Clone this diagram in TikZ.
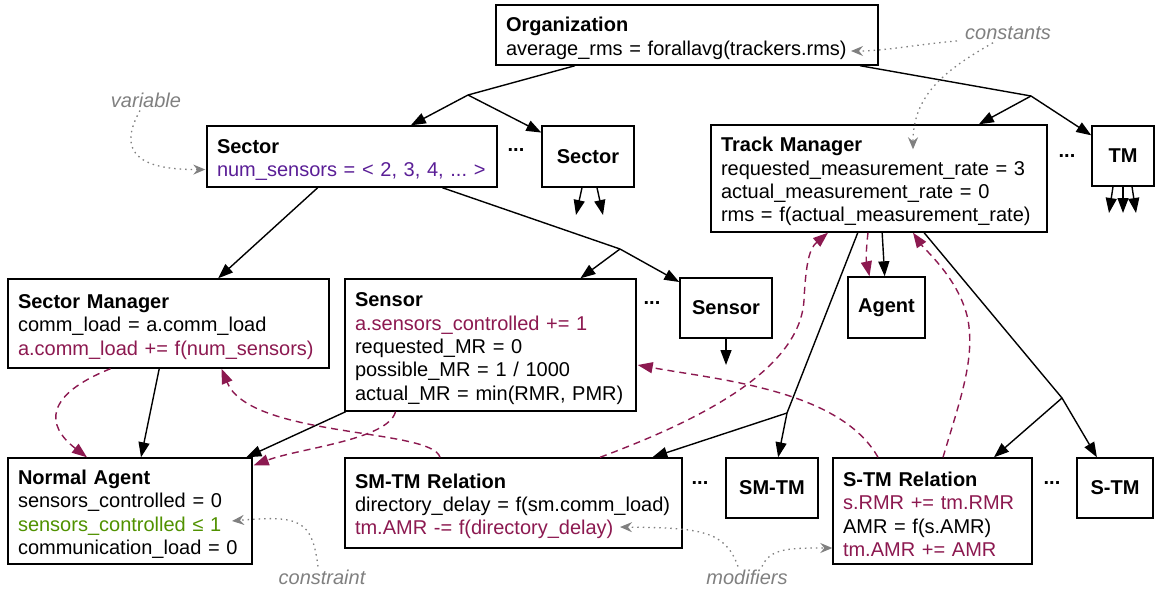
\documentclass[tikz,border=0pt]{standalone}
\usepackage{fontspec}
\setmainfont{Liberation Sans}
\usetikzlibrary{arrows.meta,calc}
\definecolor{mag}{RGB}{140,25,80}
\definecolor{purp}{RGB}{90,30,150}
\definecolor{grn}{RGB}{80,145,0}
\definecolor{notegray}{RGB}{128,128,128}
\frenchspacing
\newcommand{\boxfont}{\fontsize{20}{23.3}\selectfont}
\newcommand{\notefont}{\fontsize{20}{24}\selectfont\itshape}
% box title: bold, with a taller first line so the text block sits a little low
\newcommand{\headline}[1]{\rule{0pt}{21pt}\textbf{#1}}
\begin{document}
\begin{tikzpicture}[x=1pt,y=-1pt,
  box/.style={draw, line width=1.4pt, inner xsep=10pt, inner ysep=0pt, align=left, font=\boxfont},
  tag/.style={draw, line width=1.4pt, inner sep=0pt, align=center, font=\boxfont\bfseries},
  plain/.style={line width=1.4pt},
  link/.style={line width=1.4pt, -{Triangle[length=15pt,width=11pt]}},
  flow/.style={line width=1.4pt, mag, dash pattern=on 7pt off 5pt, -{Triangle[length=15pt,width=11pt]}},
  note/.style={line width=1.3pt, notegray, dash pattern=on 1.5pt off 4pt, -{Stealth[length=12pt,width=10pt,inset=4pt]}},
  remark/.style={font=\notefont, text=notegray, inner sep=0pt},
  more/.style={font=\boxfont\bfseries, inner sep=0pt}
]
\useasboundingbox (0,0) rectangle (1155,589);

% entity boxes
\node[box, minimum height=60pt, text width=362pt] (org) at (687,35)
  {\headline{Organization}\\average\_rms = forallavg(trackers.rms)};
\node[box, minimum height=61pt, text width=270pt] (sector) at (352,156.5)
  {\headline{Sector}\\\mbox{\color{purp}num\_sensors = < 2, 3, 4, ... >}};
\node[tag, minimum width=92pt, minimum height=61pt] (sec2) at (588,156.5) {Sector};
\node[box, minimum height=107pt, text width=316pt] (tmgr) at (879,178.5)
  {\headline{Track Manager}\\requested\_measurement\_rate = 3\\actual\_measurement\_rate = 0\\\mbox{rms = f(actual\_measurement\_rate)}};
\node[tag, minimum width=62pt, minimum height=60pt] (tm2) at (1123,156) {TM};
\node[box, minimum height=89pt, text width=301pt] (smgr) at (168.5,323.5)
  {\headline{Sector Manager}\\comm\_load = a.comm\_load\\{\color{mag}a.comm\_load += f(num\_sensors)}};
\node[box, minimum height=132pt, text width=271pt] (sensor) at (490.5,345)
  {\headline{Sensor}\\{\color{mag}a.sensors\_controlled += 1}\\requested\_MR = 0\\possible\_MR = 1 / 1000\\\mbox{actual\_MR = min(RMR, PMR)}};
\node[tag, minimum width=92pt, minimum height=60pt] (sen2) at (726,308) {Sensor};
\node[tag, minimum width=77pt, minimum height=61pt] (agent) at (886.5,307.5) {Agent};
\node[box, minimum height=106pt, text width=224pt] (nagent) at (130,511)
  {\headline{Normal Agent}\\sensors\_controlled = 0\\{\color{grn}sensors\_controlled ≤ 1}\\communication\_load = 0};
\node[box, minimum height=90pt, text width=317pt] (smtmr) at (513.5,503)
  {\headline{SM-TM Relation}\\\mbox{directory\_delay = f(sm.comm\_load)}\\{\color{mag}tm.AMR -= f(directory\_delay)}};
\node[tag, minimum width=92pt, minimum height=60pt] (smtm2) at (772,488) {SM-TM};
\node[box, minimum height=106pt, text width=179pt] (stmr) at (932.5,511)
  {\headline{S-TM Relation}\\{\color{mag}s.RMR += tm.RMR}\\AMR = f(s.AMR)\\{\color{mag}tm.AMR += AMR}};
\node[tag, minimum width=76pt, minimum height=60pt] (stm2) at (1115,488) {S-TM};

% ellipses between siblings
\node[more] (m1) at (516,150) {...};
\node[more] (m2) at (1067,156) {...};
\node[more] (m3) at (652,303) {...};
\node[more] (m4) at (700,483) {...};
\node[more] (m5) at (1052,483) {...};

% annotations
\node[remark] (cons) at (1008,33) {constants};
\node[remark] (var) at (146,100) {variable};
\node[remark] (cstr) at (322,577) {constraint};
\node[remark] (mods) at (747,577) {modifiers};

% branch points and loose ends
\coordinate (jL) at (468,95);
\coordinate (jR) at (1031,96);
\coordinate (jS) at (620,249);
\coordinate (jA) at (787,413);
\coordinate (jB) at (1062,398);
\coordinate (s2a) at (576,215);
\coordinate (s2b) at (603,215);
\coordinate (t2a) at (1109,213);
\coordinate (t2b) at (1123,213);
\coordinate (t2c) at (1136,213);
\coordinate (se2) at (726,365);
\coordinate (orgend) at (851,51);
\coordinate (leqend) at (232,521);
\coordinate (delayend) at (620,527);

% hierarchy
\draw[plain] (org) -- (jL);
\draw[link] (jL) -- (sector);
\draw[link] (jL) -- (sec2);
\draw[plain] (org) -- (jR);
\draw[link] (jR) -- (tmgr);
\draw[link] (jR) -- (tm2);
\draw[link] (sector) -- (smgr);
\draw[plain] (sector) -- (jS);
\draw[link] (jS) -- (sensor);
\draw[link] (jS) -- (sen2);
\draw[link] (smgr) -- (nagent);
\draw[link] (sensor) -- (nagent);
\draw[link] (tmgr) -- (agent);
\draw[plain] (tmgr) -- (jA);
\draw[link] (jA) -- (smtm2);
\draw[link] (jA) -- (smtmr);
\draw[plain] (tmgr) -- (jB);
\draw[link] (jB) -- (stmr);
\draw[link] (jB) -- (stm2);
\draw[link] ($(sec2.south)+(-6,0)$) -- (s2a);
\draw[link] ($(sec2.south)+(9,0)$) -- (s2b);
\draw[link] ($(tm2.south)+(-10,0)$) -- (t2a);
\draw[link] (tm2.south) -- (t2b);
\draw[link] ($(tm2.south)+(9,0)$) -- (t2c);
\draw[link] (sen2) -- (se2);

% value flows
\draw[flow] ($(smgr.south)+(-58,0)$) .. controls (45,395) and (45,425) .. ($(nagent.north)+(-43,0)$);
\draw[flow] ($(sensor.south)+(-95,0)$) .. controls (388,440) and (300,448) .. ($(nagent.north east)+(1,8)$);
\draw[flow] ($(smtmr.north)+(-73.5,0)$) .. controls (432,428) and (250,438) .. ($(smgr.south)+(53,0)$);
\draw[flow] ($(smtmr.north)+(86.5,0)$) .. controls (700,420) and (800,370) .. (804,300)
  .. controls (806,260) and (810,248) .. ($(tmgr.south)+(-51,0)$);
\draw[flow] ($(stmr.north)+(-54.5,0)$) .. controls (840,390) and (720,380) .. ($(sensor.east)+(1,20)$);
\draw[flow] ($(stmr.north)+(10.5,0)$) .. controls (960,400) and (975,360) .. (968,320)
  .. controls (960,280) and (925,250) .. ($(tmgr.south)+(34,0)$);
\draw[flow] ($(tmgr.south)+(-11,0)$) .. controls (866,250) and (866,260) .. ($(agent.north)+(-17,0)$);

% annotation pointers
\draw[note] ($(cons.west)+(-8,8)$) .. controls (920,44) and (885,51) .. (orgend);
\draw[note] ($(cons.south)+(-15,3)$) .. controls (945,70) and (913,95) .. ($(tmgr.north)+(34,25)$);
\draw[note] ($(var.south)+(-6,3)$) .. controls (118,150) and (135,170) .. ($(sector.west)+(-1,13)$);
\draw[note] ($(cstr.north)+(-4,-3)$) .. controls (312,520) and (300,515) .. (leqend);
\draw[note] ($(mods.north)+(-9,-3)$) .. controls (725,530) and (700,528) .. (delayend);
\draw[note] ($(mods.north)+(15,-3)$) .. controls (770,548) and (790,548) .. ($(stmr.west)+(0,37)$);
\end{tikzpicture}
\end{document}
